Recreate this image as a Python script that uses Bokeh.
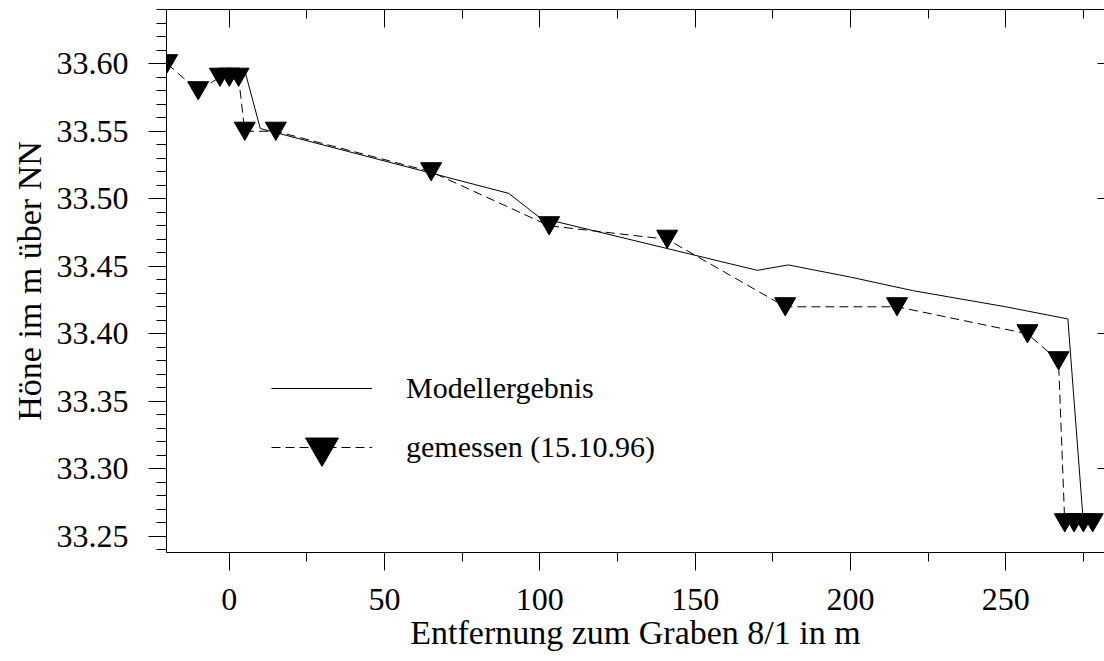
from bokeh.plotting import figure
from bokeh.models import (Range1d, LinearAxis, SingleIntervalTicker, FixedTicker,
                          NumeralTickFormatter, Legend, LegendItem, CustomJSTickFormatter)
from bokeh.embed import file_html
from bokeh.resources import INLINE

# ---- data ----
x_measured = [-20, -10, -3, 0, 3, 5, 15, 65, 103, 141, 179, 215, 257, 267, 269, 272, 275, 278]
y_measured = [33.60, 33.58, 33.59, 33.59, 33.59, 33.55, 33.55, 33.52, 33.48, 33.47,
              33.42, 33.42, 33.40, 33.38, 33.26, 33.26, 33.26, 33.26]

x_model = [0, 5, 10, 90, 100, 170, 180, 200, 220, 250, 270, 275]
y_model = [33.595, 33.595, 33.552, 33.504, 33.486, 33.447, 33.451, 33.442, 33.432,
           33.420, 33.411, 33.26]

label_model = "Modellergebnis"
label_measured = "gemessen (15.10.96)"
x_title = "Entfernung zum Graben 8/1 in m"
y_title = "Höne im m über NN"

FONT = "Liberation Serif"
X0, X1 = -20.2, 281.8
Y0, Y1 = 33.238, 33.6402
MK_SHIFT = 0.00224  # centre triangle box on the data point

p = figure(width=1104, height=661, output_backend="svg", toolbar_location=None,
           x_range=Range1d(X0, X1), y_range=Range1d(Y0, Y1),
           min_border_left=166, min_border_right=0, min_border_top=9, min_border_bottom=109,
           background_fill_color="white", border_fill_color="white")
p.outline_line_color = None
p.grid.visible = False
p.extra_y_ranges = {"mk": Range1d(Y0 - MK_SHIFT, Y1 - MK_SHIFT)}

r_model = p.line(x_model, y_model, line_color="black", line_width=1)
r_meas_line = p.line(x_measured, y_measured, line_color="black", line_width=1, line_dash="9 5")
r_meas_pts = p.scatter(x_measured, y_measured, marker="inverted_triangle", size=21,
                       fill_color="black", line_color="black", y_range_name="mk")

# bottom axis
xa = p.xaxis[0]
xa.ticker = SingleIntervalTicker(interval=50, num_minor_ticks=2)
xa.major_tick_out = 18
xa.major_tick_in = 0
xa.minor_tick_out = 9
xa.minor_tick_in = 0
xa.major_label_standoff = 18
xa.major_label_text_font = FONT
xa.major_label_text_font_size = "32px"
xa.major_label_text_color = "black"
xa.axis_label = x_title
xa.axis_label_text_font = FONT
xa.axis_label_text_font_size = "34px"
xa.axis_label_text_font_style = "normal"
xa.axis_label_text_color = "black"
xa.axis_label_standoff = 1
xa.axis_line_color = "black"

# left axis
ya = p.yaxis[0]
ya.ticker = SingleIntervalTicker(interval=0.05, num_minor_ticks=5)
ya.formatter = NumeralTickFormatter(format="0.00")
ya.major_tick_out = 18
ya.major_tick_in = 0
ya.minor_tick_out = 10
ya.minor_tick_in = 0
ya.major_label_standoff = 20
ya.major_label_text_font = FONT
ya.major_label_text_font_size = "32px"
ya.major_label_text_color = "black"
ya.axis_label = y_title
ya.axis_label_text_font = FONT
ya.axis_label_text_font_size = "34px"
ya.axis_label_text_font_style = "normal"
ya.axis_label_text_color = "black"
ya.axis_label_standoff = 6
ya.axis_line_color = "black"

blank = CustomJSTickFormatter(code="return ''")

# top axis (ticks only)
ta = LinearAxis(ticker=SingleIntervalTicker(interval=50, num_minor_ticks=2),
                formatter=blank,
                major_tick_in=18, major_tick_out=0, minor_tick_in=9, minor_tick_out=0,
                major_label_standoff=0, axis_line_color="black")
p.add_layout(ta, "above")

# right axis (ticks only)
ra = LinearAxis(ticker=FixedTicker(ticks=[33.3, 33.4, 33.5, 33.6], minor_ticks=[]),
                formatter=blank,
                major_tick_in=7, major_tick_out=0, minor_tick_in=0, minor_tick_out=0,
                major_label_standoff=0, axis_line_color=None)
p.add_layout(ra, "right")

common = dict(border_line_color=None, background_fill_alpha=0, padding=0, margin=0,
              label_text_font=FONT, label_text_font_size="30px", label_text_color="black",
              glyph_width=101, label_standoff=34, spacing=0)

leg1 = Legend(items=[LegendItem(label=label_model, renderers=[r_model])],
              location=(105, 144), glyph_height=40, label_height=40, **common)
leg2 = Legend(items=[LegendItem(label=label_measured, renderers=[r_meas_line, r_meas_pts])],
              location=(105, 64), glyph_height=82, label_height=82, **common)
p.add_layout(leg1, "center")
p.add_layout(leg2, "center")

open("out.html", "w").write(file_html(p, INLINE))
